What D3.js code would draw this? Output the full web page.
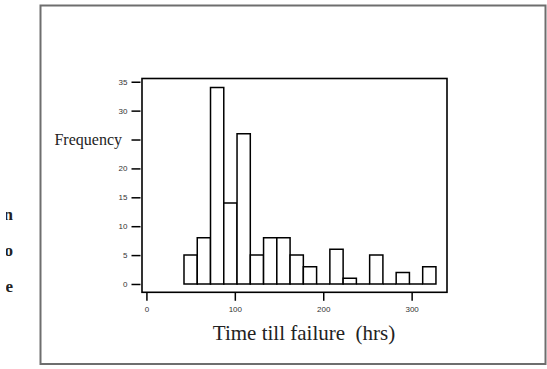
<!DOCTYPE html>
<meta charset="utf-8">
<title>Time till failure</title>
<style>
  body { margin: 0; background: #fff; }
  .axis text { font: 8px "Liberation Sans", Arial, sans-serif; fill: #333; }
  .axis line { stroke: #000; stroke-width: 1.5; }
  .axis path { display: none; }
  path.bar { fill: #fff; stroke: #000; stroke-width: 1.5; }
</style>
<body>
<script src="https://d3js.org/d3.v7.min.js"></script>
<script>
// histogram bins, 15 hrs wide
var binStarts = [42.5, 57.5, 72.5, 87.5, 102.5, 117.5, 132.5, 147.5, 162.5, 177.5,
                 192.5, 207.5, 222.5, 237.5, 252.5, 267.5, 282.5, 297.5, 312.5];
var counts = [5, 8, 34, 14, 26, 5, 8, 8, 5, 3, 0, 6, 1, 0, 5, 0, 2, 0, 3];
var binWidth = 15;
var xTicks = [0, 100, 200, 300];
var yTicks = [0, 5, 10, 15, 20, 25, 30, 35];
var sideLetters = ["n", "o", "e"];

var W = 547, H = 369;
var box = {left: 142, right: 447, top: 78.5, bottom: 292.3};

var svg = d3.select("body").append("svg")
    .attr("width", W)
    .attr("height", H);

// outer frame
svg.append("rect")
    .attr("x", 40.5).attr("y", 5.5)
    .attr("width", 505).attr("height", 358.5)
    .attr("fill", "none")
    .attr("stroke", "#6e6e6e")
    .attr("stroke-width", 2);

// cut-off letters at the left edge
svg.append("clipPath").attr("id", "leftclip")
  .append("rect").attr("x", 6).attr("y", 0).attr("width", 30).attr("height", H);
svg.append("g").attr("clip-path", "url(#leftclip)")
  .selectAll("text").data(sideLetters).enter().append("text")
    .attr("x", 13)
    .attr("y", function(d, i) { return 220 + i * 36; })
    .attr("text-anchor", "end")
    .style("font", "bold 17px 'Liberation Serif', serif")
    .style("fill", "#222")
    .text(function(d) { return d; });

var x = d3.scaleLinear().domain([-5, 340]).range([box.left, box.right]);
var y = d3.scaleLinear().domain([-1.44, 35.56]).range([box.bottom, box.top]);

// bars as closed paths so empty bins still show their baseline
svg.append("g").selectAll("path").data(counts).enter().append("path")
    .attr("class", "bar")
    .attr("d", function(d, i) {
      var p = d3.path(),
          x0 = x(binStarts[i]), x1 = x(binStarts[i] + binWidth);
      p.moveTo(x0, y(0));
      p.lineTo(x0, y(d));
      p.lineTo(x1, y(d));
      p.lineTo(x1, y(0));
      p.closePath();
      return p.toString();
    });

// plot box
svg.append("rect")
    .attr("x", box.left).attr("y", box.top)
    .attr("width", box.right - box.left).attr("height", box.bottom - box.top)
    .attr("fill", "none")
    .attr("stroke", "#000")
    .attr("stroke-width", 1.6);

var yAxis = d3.axisLeft(y).tickValues(yTicks).tickSize(9).tickPadding(4)
    .tickFormat(function(d) { return d === 25 ? "" : d; });
svg.append("g")
    .attr("class", "axis")
    .attr("transform", "translate(" + (box.left - 1.5) + ",0)")
    .call(yAxis);

var xAxis = d3.axisBottom(x).tickValues(xTicks).tickSize(8).tickPadding(6);
svg.append("g")
    .attr("class", "axis")
    .attr("transform", "translate(0," + (box.bottom + 0.5) + ")")
    .call(xAxis);

svg.append("text")
    .attr("x", 122)
    .attr("y", y(25) + 5)
    .attr("text-anchor", "end")
    .style("font", "16px 'Liberation Serif', 'Times New Roman', serif")
    .style("fill", "#222")
    .text("Frequency");

svg.append("text")
    .attr("x", 304)
    .attr("y", 340)
    .attr("text-anchor", "middle")
    .style("font", "21px 'Liberation Serif', 'Times New Roman', serif")
    .style("fill", "#222")
    .style("white-space", "pre")
    .text("Time till failure  (hrs)");
</script>
</body>
